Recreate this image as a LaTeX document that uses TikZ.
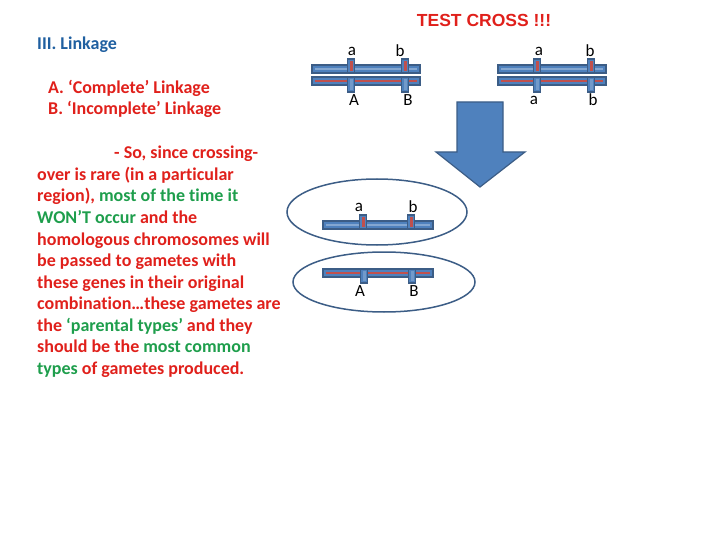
\documentclass[tikz,border=0pt]{standalone}
\usepackage{fontspec}
\setmainfont{Carlito}[RawFeature={-liga,-clig,-calt}]
\newfontfamily\arialf{Liberation Sans}
\begin{document}
\begin{tikzpicture}[x=1pt,y=-1pt,
  txt/.style={anchor=base west,inner sep=0pt,font=\bfseries\fontsize{18}{21}\selectfont,text=tred},
  lbl/.style={inner sep=0pt,font=\fontsize{17}{19}\selectfont},
  bar/.style={draw=bdark,line width=1.2pt},
  ell/.style={draw=bdark,line width=1.5pt}]
\definecolor{tred}{HTML}{E0201B}
\definecolor{tgreen}{HTML}{1E9E4C}
\definecolor{tblue}{HTML}{1F5FA0}
\definecolor{bdark}{HTML}{3C5D86}
\definecolor{cblue}{HTML}{4F81BD}
\definecolor{cred}{HTML}{C0504D}
\useasboundingbox (0,0) rectangle (720,540);
% text
\node[anchor=base,inner sep=0pt,font=\arialf\bfseries\fontsize{17.5}{20}\selectfont,text=tred] (title) at (484,27) {TEST CROSS !!!};
\node[txt,text=tblue] (h) at (37,50) {III. Linkage};
\node[txt] (la) at (48,94) {A. ‘Complete’ Linkage};
\node[txt] (lb) at (48,115) {B. ‘Incomplete’ Linkage};
\node[txt] (t1) at (114,159) {- So, since crossing-};
\node[txt] (t2) at (37,180.5) {over is rare (in a particular};
\node[txt] (t3) at (37,202) {region), \textcolor{tgreen}{most of the time it}};
\node[txt] (t4) at (37,223.5) {\textcolor{tgreen}{WON’T occur} and the};
\node[txt] (t5) at (37,245) {homologous chromosomes will};
\node[txt] (t6) at (37,266.5) {be passed to gametes with};
\node[txt] (t7) at (37,288) {these genes in their original};
\node[txt] (t8) at (37,309.5) {combination…these gametes are};
\node[txt] (t9) at (37,331) {the \textcolor{tgreen}{‘parental types’} and they};
\node[txt] (t10) at (37,352.5) {should be the \textcolor{tgreen}{most common}};
\node[txt] (t11) at (37,374) {\textcolor{tgreen}{types} of gametes produced.};
\newcommand{\marker}[5]{% x ytop ybot color
  \filldraw[bar,fill=cblue] (#1-3.5,#2) rectangle (#1+3.5,#3);
  \fill[#4] (#1-1.5,#2+2) rectangle (#1+1.5,#3-2);}
% pair 1
\filldraw[bar,fill=cblue] (312,65) rectangle (420,73);
\draw[cblue!70!white,line width=2pt] (315,69) -- (417,69);
\filldraw[bar,fill=cblue] (312,77) rectangle (420,85);
\draw[cred,line width=2.5pt] (315,81) -- (417,81);
\marker{351}{59}{73}{cred}{}
\marker{405}{59}{73}{cred}{}
\marker{351}{77}{92}{cblue!80!white}{}
\marker{405}{77}{92}{cblue!80!white}{}
\node[lbl] (a1) at (352,51) {a};
\node[lbl] (b1) at (400,51) {b};
\node[lbl] (A1) at (354,100) {A};
\node[lbl] (B1) at (408,100) {B};
% pair 2
\filldraw[bar,fill=cblue] (498,65) rectangle (606,73);
\draw[cblue!70!white,line width=2pt] (501,69) -- (603,69);
\filldraw[bar,fill=cblue] (498,77) rectangle (606,85);
\draw[cred,line width=2.5pt] (501,81) -- (603,81);
\marker{537}{59}{73}{cred}{}
\marker{591}{59}{73}{cred}{}
\marker{537}{77}{92}{cblue!80!white}{}
\marker{591}{77}{92}{cblue!80!white}{}
\node[lbl] (a2) at (539,51) {a};
\node[lbl] (b2) at (590,51) {b};
\node[lbl] (a3) at (534,100) {a};
\node[lbl] (b3) at (593,100) {b};
% arrow
\filldraw[fill=cblue,draw=bdark,line width=1.2pt] (457,102) -- (503,102) -- (503,152) -- (525,152) -- (480,187) -- (436,152) -- (457,152) -- cycle;
% ellipses
\draw[ell] (377,212) ellipse [x radius=90,y radius=33];
\draw[ell] (384,282) ellipse [x radius=91,y radius=30];
\filldraw[bar,fill=cblue] (323,221) rectangle (433,229);
\draw[cblue!70!white,line width=2pt] (326,225) -- (430,225);
\marker{363}{215}{229}{cred}{}
\marker{411}{215}{229}{cred}{}
\node[lbl] (a4) at (359,207) {a};
\node[lbl] (b4) at (413,207) {b};
\filldraw[bar,fill=cblue] (323,269) rectangle (433,277);
\draw[cred,line width=2.5pt] (326,273) -- (430,273);
\marker{364}{269}{283}{cblue!80!white}{}
\marker{412}{269}{283}{cblue!80!white}{}
\node[lbl] (A4) at (360,291) {A};
\node[lbl] (B4) at (414,291) {B};
\end{tikzpicture}
\end{document}
